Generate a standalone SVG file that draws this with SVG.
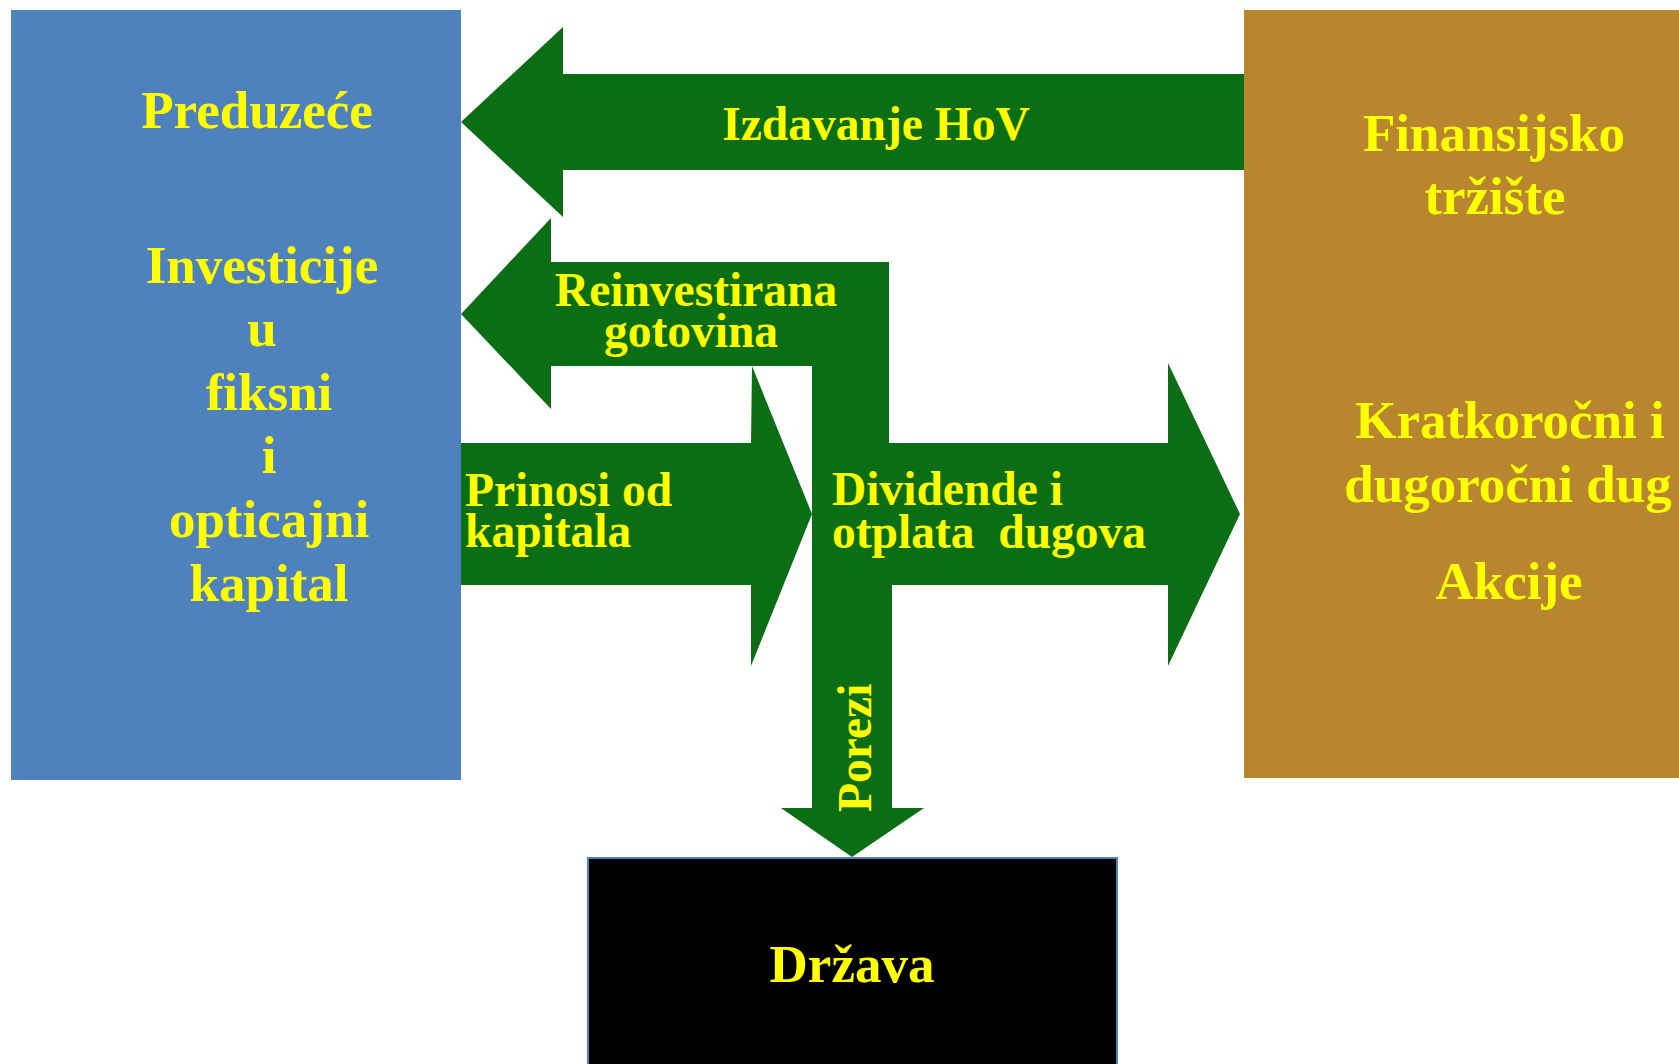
<svg xmlns="http://www.w3.org/2000/svg" width="1679" height="1064" viewBox="0 0 1679 1064">
<style>
.t{font-family:"Liberation Serif","Times New Roman",serif;font-weight:bold;fill:#ffff00;white-space:pre}
.big{font-size:53px}
.lbl{font-size:47.5px}
.c{text-anchor:middle}
.flow{fill:#0b6e14}
</style>
<rect width="1679" height="1064" fill="#ffffff"/>
<g id="connectors">
<polygon class="flow" points="461,122 563,27 563,74 1244,74 1244,170 563,170 563,217"/>
<polygon class="flow" points="461,314 551,218 551,262 889,262 889,445 812,445 812,366 551,366 551,409"/>
<polygon class="flow" points="812,443 1168,443 1168,363 1240,514 1168,666 1168,585 812,585"/>
<polygon class="flow" points="812,580 892,580 892,808 924,808 852,857 781,808 812,808"/>
<polygon class="flow" points="461,443 751,443 752,366 812,514 751,666 751,585 461,585"/>
<text class="t lbl c" x="876" y="140">Izdavanje HoV</text>
<text class="t lbl c" x="696" y="306">Reinvestirana</text>
<text class="t lbl c" x="691" y="347">gotovina</text>
<text class="t lbl" x="465" y="506">Prinosi od</text>
<text class="t lbl" x="465" y="547">kapitala</text>
<text class="t lbl" x="832" y="505">Dividende i</text>
<text class="t lbl" x="832" y="548">otplata  dugova</text>
<text class="t lbl" transform="translate(871,812) rotate(-90)">Porezi</text>
</g>
<g id="preduzece">
<rect x="11" y="10" width="450" height="770" fill="#4f81bd"/>
<text class="t big c" x="257" y="128">Preduzeće</text>
<text class="t big c" x="262" y="283">Investicije</text>
<text class="t big c" x="262" y="346">u</text>
<text class="t big c" x="269" y="410">fiksni</text>
<text class="t big c" x="269" y="473">i</text>
<text class="t big c" x="269" y="537">opticajni</text>
<text class="t big c" x="269" y="601">kapital</text>
</g>
<g id="finansijsko-trziste">
<rect x="1244" y="10" width="435" height="768" fill="#b8862f"/>
<text class="t big c" x="1494" y="151">Finansijsko</text>
<text class="t big c" x="1495" y="214">tržište</text>
<text class="t big c" x="1510" y="438">Kratkoročni i</text>
<text class="t big c" x="1508" y="502">dugoročni dug</text>
<text class="t big c" x="1509" y="599">Akcije</text>
</g>
<g id="drzava">
<rect x="588" y="858" width="529" height="210" fill="#000000" stroke="#4f81bd" stroke-width="2"/>
<text class="t big c" x="852" y="982">Država</text>
</g>
</svg>
